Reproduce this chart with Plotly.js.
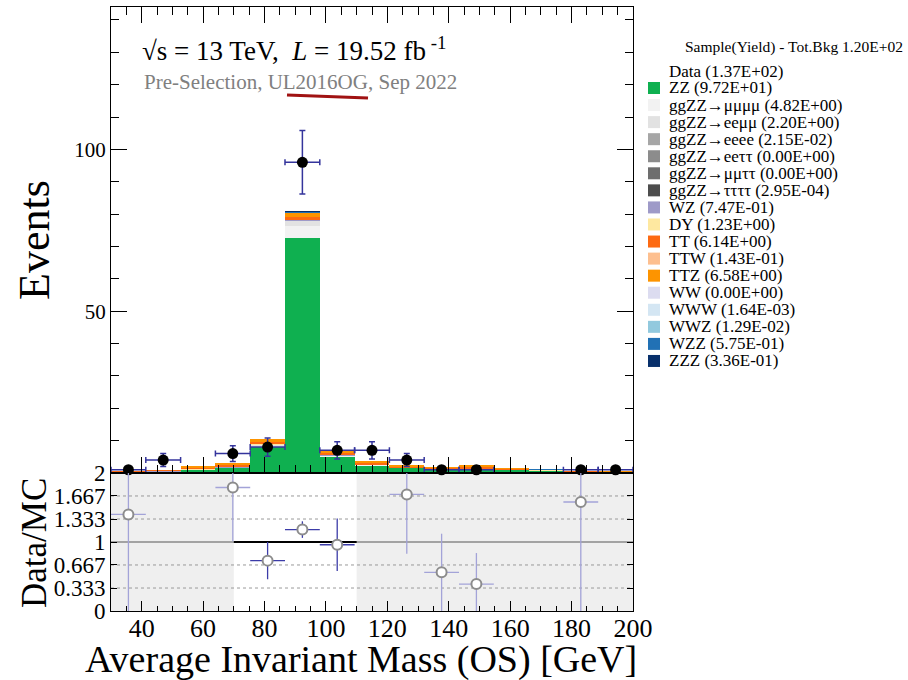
<!DOCTYPE html>
<html><head><meta charset="utf-8">
<script src="https://cdn.plot.ly/plotly-3.0.1.min.js"></script>
<style>html,body{margin:0;padding:0;background:#fff;} #chart{width:908px;height:680px;}</style>
</head><body><div id="chart"></div>
<script>
// ---------------- DATA ----------------
const binCenters = [35.67, 47.0, 58.33, 69.67, 81.0, 92.33, 103.67, 115.0, 126.33, 137.67, 149.0, 160.33, 171.67, 183.0, 194.33];
const dataCounts = [1, 4, 0, 6, 8, 96, 7, 7, 4, 1, 1, 0, 0, 1, 1];
const dataErrors = [1, 2, 0, 2.45, 2.83, 9.8, 2.65, 2.65, 2, 1, 1, 0, 0, 1, 1];
const ratioValues = [1.40, null, null, 1.79, 0.73, 1.18, 0.96, null, 1.69, 0.56, 0.39, null, null, 1.58, null];
const ratioErrors = [1.40, null, null, 0.78, 0.27, 0.12, 0.38, null, 0.86, 0.56, 0.45, null, null, 1.58, null];
const ratioDarkBins = [4, 5, 6];

const zz        = [0.3, 0.4, 0.9, 1.5, 8.1, 72.7, 5.0, 2.2, 1.4, 1.0, 1.2, 0.9, 0.7, 0.35, 0.3];
const ggZZ4mu   = [0.03, 0.04, 0.06, 0.12, 0.3, 3.6, 0.25, 0.12, 0.08, 0.07, 0.06, 0.04, 0.03, 0.01, 0.01];
const ggZZ2e2mu = [0.01, 0.02, 0.03, 0.06, 0.15, 1.6, 0.12, 0.06, 0.04, 0.03, 0.03, 0.02, 0.01, 0.01, 0.01];
const ggZZ4e    = [0, 0, 0.001, 0.002, 0.003, 0.008, 0.003, 0.002, 0.001, 0.001, 0.0005, 0, 0, 0, 0];
const ggZZ2e2tau  = [0, 0, 0, 0, 0, 0, 0, 0, 0, 0, 0, 0, 0, 0, 0];
const ggZZ2mu2tau = [0, 0, 0, 0, 0, 0, 0, 0, 0, 0, 0, 0, 0, 0, 0];
const ggZZ4tau  = [0, 0, 0, 0, 0, 0.0003, 0, 0, 0, 0, 0, 0, 0, 0, 0];
const wz        = [0.03, 0.05, 0.06, 0.08, 0.1, 0.15, 0.08, 0.05, 0.04, 0.03, 0.025, 0.02, 0.015, 0.01, 0.007];
const dy        = [0.05, 0.1, 0.15, 0.2, 0.2, 0.15, 0.1, 0.08, 0.05, 0.05, 0.03, 0.04, 0.02, 0.01, 0];
const tt        = [0.15, 0.2, 0.4, 0.6, 0.8, 1.0, 0.7, 0.5, 0.35, 0.3, 0.5, 0.3, 0.15, 0.1, 0.09];
const ttw       = [0.005, 0.008, 0.01, 0.012, 0.015, 0.02, 0.015, 0.012, 0.01, 0.009, 0.008, 0.007, 0.006, 0.004, 0.002];
const ttz       = [0.1, 0.15, 0.4, 0.6, 0.9, 1.2, 0.8, 0.6, 0.4, 0.3, 0.5, 0.3, 0.15, 0.1, 0.08];
const ww        = [0, 0, 0, 0, 0, 0, 0, 0, 0, 0, 0, 0, 0, 0, 0];
const www       = [0, 0, 0, 0.0003, 0.0003, 0.0004, 0.0002, 0.0002, 0.0001, 0, 0, 0, 0, 0, 0];
const wwz       = [0, 0, 0.001, 0.001, 0.002, 0.003, 0.002, 0.001, 0.001, 0.001, 0.0005, 0.0004, 0, 0, 0];
const wzz       = [0.005, 0.01, 0.02, 0.03, 0.05, 0.3, 0.05, 0.03, 0.02, 0.02, 0.015, 0.01, 0.008, 0.004, 0.003];
const zzz       = [0.003, 0.005, 0.01, 0.015, 0.025, 0.2, 0.03, 0.015, 0.01, 0.008, 0.006, 0.004, 0.003, 0.001, 0.001];

const sampleNames  = ['ZZ', 'ggZZ→μμμμ', 'ggZZ→eeμμ', 'ggZZ→eeee', 'ggZZ→eeττ', 'ggZZ→μμττ', 'ggZZ→ττττ', 'WZ', 'DY', 'TT', 'TTW', 'TTZ', 'WW', 'WWW', 'WWZ', 'WZZ', 'ZZZ'];
const sampleYields = ['9.72E+01', '4.82E+00', '2.20E+00', '2.15E-02', '0.00E+00', '0.00E+00', '2.95E-04', '7.47E-01', '1.23E+00', '6.14E+00', '1.43E-01', '6.58E+00', '0.00E+00', '1.64E-03', '1.29E-02', '5.75E-01', '3.36E-01'];
const sampleValues = [zz, ggZZ4mu, ggZZ2e2mu, ggZZ4e, ggZZ2e2tau, ggZZ2mu2tau, ggZZ4tau, wz, dy, tt, ttw, ttz, ww, www, wwz, wzz, zzz];
const sampleColors = ['#0fb050', '#f2f2f2', '#e2e2e2', '#a6a6a6', '#8c8c8c', '#6e6e6e', '#4d4d4d', '#9e9ac8', '#fee8a0', '#fd6a12', '#fdbf8f', '#fd9400', '#dcdcf0', '#d4e6f3', '#92c9de', '#2171b5', '#08306b'];
const dataYield = '1.37E+02';
const totalBkgYield = '1.20E+02';

const xTickVals = [40, 60, 80, 100, 120, 140, 160, 180, 200];
const yTickVals = [50, 100];
const ratioTickVals = [0, 0.333, 0.667, 1, 1.333, 1.667, 2];
const ratioTickText = ['0', '0.333', '0.667', '1', '1.333', '1.667', '2'];

// ---------------- LAYOUT HELPERS ----------------
const W = 908, H = 680, ML = 111, MR = 275, MT = 7, MB = 69;
const PW = W - ML - MR, PH = H - MT - MB;
const px = x => (x - ML) / PW;
const py = y => (H - MB - y) / PH;
const split = (H - MB - 473) / PH;
const serif = 'Liberation Serif, Times New Roman, serif';
const binWidth = 11.333;

const traces = [];
sampleValues.forEach((vals, i) => {
  traces.push({
    type: 'bar', x: binCenters, y: vals, width: binWidth,
    marker: {color: sampleColors[i], line: {width: 0}},
    xaxis: 'x', yaxis: 'y', name: sampleNames[i], hoverinfo: 'skip'
  });
});
const errColor = '#34349c';
traces.push({
  type: 'scatter', mode: 'markers', x: binCenters,
  y: dataCounts.map(v => v > 0 ? v : null),
  marker: {color: '#000', size: 11},
  error_y: {type: 'data', array: dataErrors, color: errColor, thickness: 1.5, width: 3},
  error_x: {type: 'constant', value: binWidth / 2, color: errColor, thickness: 1.5, width: 3},
  xaxis: 'x', yaxis: 'y', cliponaxis: false, name: 'Data'
});
function ratioTrace(dark) {
  const idx = ratioValues.map((v, i) => i).filter(i => ratioValues[i] !== null && (ratioDarkBins.includes(i) === dark));
  const c = dark ? '#3c3ca8' : '#a3a3d8';
  return {
    type: 'scatter', mode: 'markers',
    x: idx.map(i => binCenters[i]), y: idx.map(i => ratioValues[i]),
    marker: {color: '#fff', size: 10, symbol: 'circle', line: {color: '#8c8c8c', width: 2}},
    error_y: {type: 'data', array: idx.map(i => ratioErrors[i]), color: c, thickness: 1.3, width: 0},
    error_x: {type: 'constant', value: binWidth / 2, color: c, thickness: 1.3, width: 0},
    xaxis: 'x2', yaxis: 'y2', cliponaxis: true
  };
}
traces.push(ratioTrace(false));
traces.push(ratioTrace(true));

const yTickFont = {family: serif, size: 21, color: '#000'};
const rTickFont = {family: serif, size: 23, color: '#000'};
const shapes = [
  {type: 'rect', xref: 'x2', yref: 'y2 domain', x0: 30, x1: 70, y0: 0, y1: 1, fillcolor: '#efefef', line: {width: 0}, layer: 'below'},
  {type: 'rect', xref: 'x2', yref: 'y2 domain', x0: 110, x1: 200, y0: 0, y1: 1, fillcolor: '#efefef', line: {width: 0}, layer: 'below'},
];
[0.333, 0.667, 1.333, 1.667].forEach(v => shapes.push({type: 'line', xref: 'x2 domain', yref: 'y2', x0: 0, x1: 1, y0: v, y1: v, line: {color: '#9a9a9a', width: 1, dash: 'dot'}, layer: 'below'}));
shapes.push({type: 'line', xref: 'x2 domain', yref: 'y2', x0: 0, x1: 1, y0: 1, y1: 1, line: {color: '#8a8a8a', width: 1.5}, layer: 'below'});
shapes.push({type: 'line', xref: 'x2', yref: 'y2', x0: 70, x1: 110, y0: 1, y1: 1, line: {color: '#000', width: 2}, layer: 'below'});
// hand-drawn red underline
shapes.push({type: 'line', xref: 'paper', yref: 'paper', x0: px(287), y0: py(95), x1: px(368), y1: py(98), line: {color: '#a01212', width: 3}});

const annotations = [
  {xref: 'paper', yref: 'paper', x: px(140), y: py(49), xanchor: 'left', yanchor: 'middle', showarrow: false,
   text: '√s = 13 TeV,  <i>L</i> = 19.52 fb<sup> -1</sup>', font: {family: serif, size: 27, color: '#000'}},
  {xref: 'paper', yref: 'paper', x: px(142), y: py(82), xanchor: 'left', yanchor: 'middle', showarrow: false,
   text: 'Pre-Selection, UL2016OG, Sep 2022', font: {family: serif, size: 21, color: '#808080'}},
  {xref: 'paper', yref: 'paper', x: px(34), y: py(240), xanchor: 'center', yanchor: 'middle', showarrow: false, textangle: -90,
   text: 'Events', font: {family: serif, size: 44, color: '#000'}},
  {xref: 'paper', yref: 'paper', x: px(34), y: py(543), xanchor: 'center', yanchor: 'middle', showarrow: false, textangle: -90,
   text: 'Data/MC', font: {family: serif, size: 35, color: '#000'}},
  {xref: 'paper', yref: 'paper', x: px(361), y: py(659), xanchor: 'center', yanchor: 'middle', showarrow: false,
   text: 'Average Invariant Mass (OS) [GeV]', font: {family: serif, size: 38, color: '#000'}},
  {xref: 'paper', yref: 'paper', x: px(683), y: py(47), xanchor: 'left', yanchor: 'middle', showarrow: false,
   text: 'Sample(Yield) - Tot.Bkg ' + totalBkgYield, font: {family: serif, size: 15.5, color: '#000'}},
  {xref: 'paper', yref: 'paper', x: px(667), y: py(71), xanchor: 'left', yanchor: 'middle', showarrow: false,
   text: 'Data (' + dataYield + ')', font: {family: serif, size: 17, color: '#000'}}
];
sampleNames.forEach((n, i) => {
  const yc = 88 + i * 17.06;
  annotations.push({xref: 'paper', yref: 'paper', x: px(667), y: py(yc), xanchor: 'left', yanchor: 'middle', showarrow: false,
    text: n + ' (' + sampleYields[i] + ')', font: {family: serif, size: 17, color: '#000'}});
  shapes.push({type: 'rect', xref: 'paper', yref: 'paper', x0: px(648), x1: px(660), y0: py(yc + 6), y1: py(yc - 6),
    fillcolor: sampleColors[i], line: {width: 0}});
});

const layout = {
  width: W, height: H, margin: {l: ML, r: MR, t: MT, b: MB},
  paper_bgcolor: '#fff', plot_bgcolor: 'rgba(0,0,0,0)',
  barmode: 'stack', bargap: 0, showlegend: false,
  font: {family: serif, color: '#000'},
  xaxis: {domain: [0, 1], anchor: 'y', range: [30, 200], showticklabels: false,
    tickmode: 'array', tickvals: xTickVals, ticks: 'inside', ticklen: 16, tickcolor: '#000',
    minor: {ticks: 'inside', ticklen: 8, dtick: 5, tick0: 0, tickcolor: '#000'},
    mirror: 'allticks', showline: true, linecolor: '#000', linewidth: 1, showgrid: false, zeroline: false},
  yaxis: {domain: [split, 1], anchor: 'x', range: [0, 144],
    tickmode: 'array', tickvals: yTickVals, ticks: 'inside', ticklen: 16, tickcolor: '#000',
    minor: {ticks: 'inside', ticklen: 8, dtick: 10, tick0: 0, tickcolor: '#000'},
    mirror: 'allticks', showline: true, linecolor: '#000', linewidth: 1, showgrid: false, zeroline: false, tickfont: yTickFont},
  xaxis2: {domain: [0, 1], anchor: 'y2', range: [30, 200], tickmode: 'array', tickvals: xTickVals,
    ticks: 'inside', ticklen: 10, tickcolor: '#000', ticklabelstandoff: -6,
    minor: {ticks: 'inside', ticklen: 5, dtick: 5, tick0: 0, tickcolor: '#000'},
    mirror: true, showline: true, linecolor: '#000', linewidth: 1, showgrid: false, zeroline: false,
    tickfont: {family: serif, size: 26, color: '#000'}},
  yaxis2: {domain: [0, split], anchor: 'x2', range: [0, 2], tickmode: 'array', tickvals: ratioTickVals, ticktext: ratioTickText,
    ticks: 'inside', ticklen: 6, tickcolor: '#000',
    mirror: 'allticks', showline: true, linecolor: '#000', linewidth: 1, showgrid: false, zeroline: false, tickfont: rTickFont},
  shapes: shapes, annotations: annotations
};
Plotly.newPlot('chart', traces, layout, {staticPlot: true, displayModeBar: false});
</script></body></html>
